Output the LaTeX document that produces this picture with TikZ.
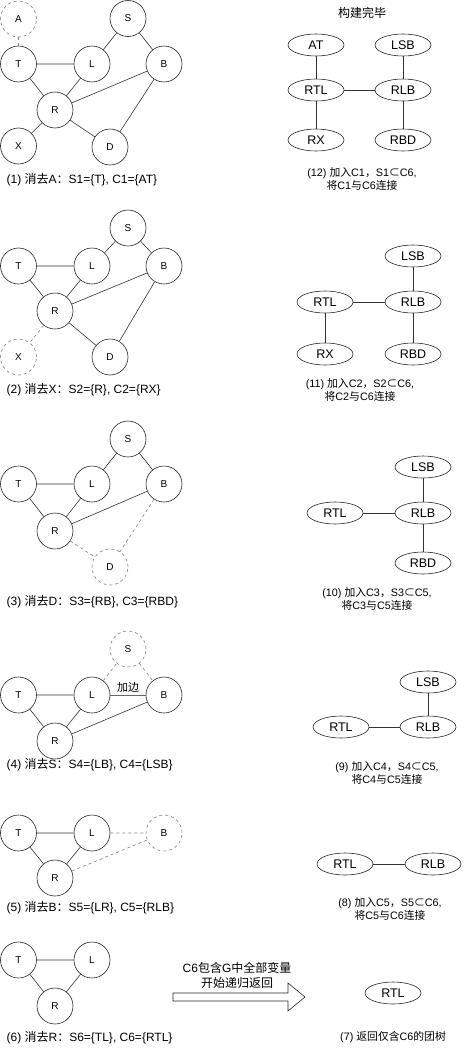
\documentclass[tikz,border=0pt]{standalone}
\usepackage{fontspec}
\setmainfont{Liberation Sans}
\newfontfamily\cjk{Noto Sans CJK SC}
\usetikzlibrary{shapes.geometric}

\begin{document}
\begin{tikzpicture}[x=1pt,y=-1pt,line width=0.6pt,
  var/.style={circle,draw=black!85,minimum size=36pt,inner sep=0pt,font=\fontsize{10}{11}\selectfont},
  gone/.style={var,dashed,draw=gray},
  clq/.style={ellipse,draw=black!85,minimum width=56pt,minimum height=22pt,inner sep=0pt,font=\fontsize{12.5}{13}\selectfont},
  lcap/.style={anchor=west,font=\fontsize{12}{14}\selectfont},
  rcap/.style={align=center,font=\fontsize{10.8}{12.5}\selectfont},
  dl/.style={dashed,gray},
  el/.style={black!80}]
\useasboundingbox (0,0) rectangle (472,1052);

% (1) eliminate A
\node[gone] (A1) at (18.5,19) {A};
\node[var] (S1) at (128,18.5) {S};
\node[var] (T1) at (18.5,64) {T};
\node[var] (L1) at (92,64) {L};
\node[var] (B1) at (164,64) {B};
\node[var] (R1) at (55,110) {R};
\node[var] (X1) at (18.5,146) {X};
\node[var] (D1) at (110,147) {D};
\draw[dl] (A1)--(T1);
\draw[el] (T1)--(L1) (T1)--(R1) (L1)--(R1) (L1)--(S1) (S1)--(B1) (R1)--(B1) (R1)--(X1) (R1)--(D1) (B1)--(D1);
\node[lcap] (c1) at (3,180) {(1) {\cjk 消去}A{\cjk ：}S1=\{T\}, C1=\{AT\}};

% (2) eliminate X
\node[var] (S2) at (128,228) {S};
\node[var] (T2) at (18.5,266) {T};
\node[var] (L2) at (92,266) {L};
\node[var] (B2) at (164,266) {B};
\node[var] (R2) at (55,311) {R};
\node[gone] (X2) at (18.5,357) {X};
\node[var] (D2) at (110,357) {D};
\draw[dl] (R2)--(X2);
\draw[el] (T2)--(L2) (T2)--(R2) (L2)--(R2) (L2)--(S2) (S2)--(B2) (R2)--(B2) (R2)--(D2) (B2)--(D2);
\node[lcap] (c2) at (3,390) {(2) {\cjk 消去}X{\cjk ：}S2=\{R\}, C2=\{RX\}};

% (3) eliminate D
\node[var] (S3) at (128,439) {S};
\node[var] (T3) at (18.5,484) {T};
\node[var] (L3) at (92,484) {L};
\node[var] (B3) at (164,484) {B};
\node[var] (R3) at (55,531) {R};
\node[gone] (D3) at (110,567) {D};
\draw[dl] (R3)--(D3) (B3)--(D3);
\draw[el] (T3)--(L3) (T3)--(R3) (L3)--(R3) (L3)--(S3) (S3)--(B3) (R3)--(B3);
\node[lcap] (c3) at (3,602) {(3) {\cjk 消去}D{\cjk ：}S3=\{RB\}, C3=\{RBD\}};

% (4) eliminate S, fill-in edge L-B
\node[gone] (S4) at (128,649) {S};
\node[var] (T4) at (18.5,695) {T};
\node[var] (L4) at (92,695) {L};
\node[var] (B4) at (164,695) {B};
\node[var] (R4) at (55,741) {R};
\draw[dl] (L4)--(S4) (S4)--(B4);
\draw[el] (T4)--(L4) (T4)--(R4) (L4)--(R4) (R4)--(B4);
\draw[black!60] (L4)--(B4) node[midway,above=-1pt,font=\cjk\fontsize{11}{12}\selectfont,text=black] (fill4) {加边};
\node[lcap] (c4) at (3,765) {(4) {\cjk 消去}S{\cjk ：}S4=\{LB\}, C4=\{LSB\}};

% (5) eliminate B
\node[var] (T5) at (18.5,833) {T};
\node[var] (L5) at (92,833) {L};
\node[gone] (B5) at (164,833) {B};
\node[var] (R5) at (55,878) {R};
\draw[dl] (L5)--(B5) (R5)--(B5);
\draw[el] (T5)--(L5) (T5)--(R5) (L5)--(R5);
\node[lcap] (c5) at (3,908) {(5) {\cjk 消去}B{\cjk ：}S5=\{LR\}, C5=\{RLB\}};

% (6) eliminate R
\node[var] (T6) at (18.5,960) {T};
\node[var] (L6) at (92,960) {L};
\node[var] (R6) at (55,1006) {R};
\draw[el] (T6)--(L6) (T6)--(R6) (L6)--(R6);
\node[lcap] (c6) at (3,1038) {(6) {\cjk 消去}R{\cjk ：}S6=\{TL\}, C6=\{RTL\}};

% turning point
\draw[black!85] (173,993)--(288,993)--(288,983)--(305,997)--(288,1011)--(288,1001)--(173,1001)--cycle;
\node[align=center,font=\fontsize{12}{14.5}\selectfont] (turn) at (237,975.5) {C6{\cjk 包含}G{\cjk 中全部变量}\\{\cjk 开始递归返回}};

% (7) .. (12) clique tree, bottom up
\node[clq] (rtl7) at (393,993) {RTL};
\node[rcap] (c7) at (393,1037) {(7) {\cjk 返回仅含}C6{\cjk 的团树}};

\node[clq] (rtl8) at (345,864) {RTL};
\node[clq] (rlb8) at (433,864) {RLB};
\draw[el] (rtl8)--(rlb8);
\node[rcap] (c8) at (390,909) {(8) {\cjk 加入}C5{\cjk ，}S5{\cjk ⊂}C6,\\{\cjk 将}C5{\cjk 与}C6{\cjk 连接}};

\node[clq] (lsb9) at (428,682) {LSB};
\node[clq] (rtl9) at (341,727) {RTL};
\node[clq] (rlb9) at (428,727) {RLB};
\draw[el] (rtl9)--(rlb9) (lsb9)--(rlb9);
\node[rcap] (c9) at (387,773) {(9) {\cjk 加入}C4{\cjk ，}S4{\cjk ⊂}C5,\\{\cjk 将}C4{\cjk 与}C5{\cjk 连接}};

\node[clq] (lsb10) at (423,467) {LSB};
\node[clq] (rtl10) at (335,513) {RTL};
\node[clq] (rlb10) at (423,513) {RLB};
\node[clq] (rbd10) at (423,563) {RBD};
\draw[el] (rtl10)--(rlb10) (lsb10)--(rlb10) (rlb10)--(rbd10);
\node[rcap] (c10) at (377,599) {(10) {\cjk 加入}C3{\cjk ，}S3{\cjk ⊂}C5,\\{\cjk 将}C3{\cjk 与}C5{\cjk 连接}};

\node[clq] (lsb11) at (413,256) {LSB};
\node[clq] (rtl11) at (325,302) {RTL};
\node[clq] (rlb11) at (413,302) {RLB};
\node[clq] (rx11) at (325,354) {RX};
\node[clq] (rbd11) at (413,354) {RBD};
\draw[el] (rtl11)--(rlb11) (lsb11)--(rlb11) (rlb11)--(rbd11) (rtl11)--(rx11);
\node[rcap] (c11) at (360,390) {(11) {\cjk 加入}C2{\cjk ，}S2{\cjk ⊂}C6,\\{\cjk 将}C2{\cjk 与}C6{\cjk 连接}};

\node[font=\cjk\fontsize{12}{14}\selectfont] (done) at (362,13) {构建完毕};
\node[clq] (at12) at (316,45) {AT};
\node[clq] (lsb12) at (403,45) {LSB};
\node[clq] (rtl12) at (316,90) {RTL};
\node[clq] (rlb12) at (403,90) {RLB};
\node[clq] (rx12) at (316,140) {RX};
\node[clq] (rbd12) at (403,140) {RBD};
\draw[el] (rtl12)--(rlb12) (lsb12)--(rlb12) (rlb12)--(rbd12) (rtl12)--(rx12) (at12)--(rtl12);
\node[rcap] (c12) at (362,179) {(12) {\cjk 加入}C1{\cjk ，}S1{\cjk ⊂}C6,\\{\cjk 将}C1{\cjk 与}C6{\cjk 连接}};
\end{tikzpicture}
\end{document}
